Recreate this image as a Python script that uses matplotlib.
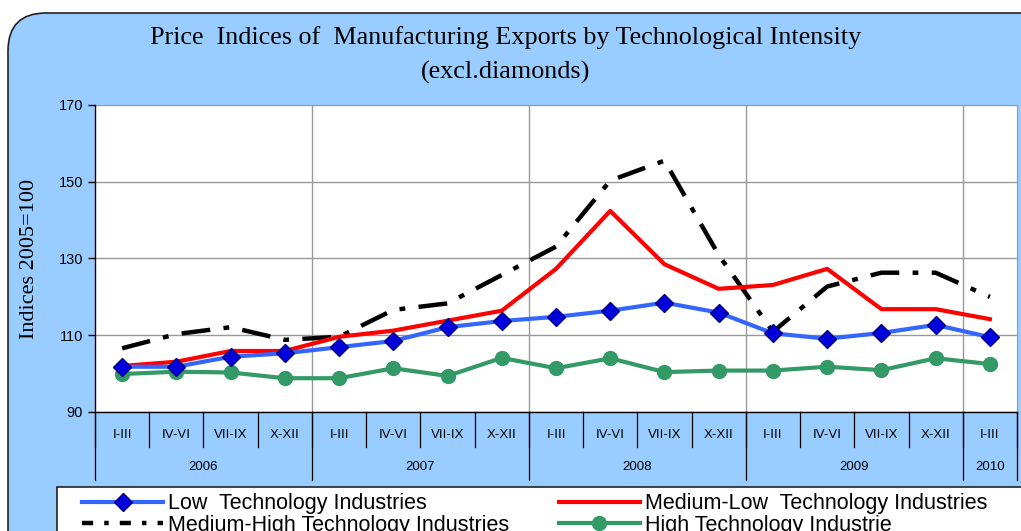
import matplotlib
matplotlib.use("Agg")
import matplotlib.pyplot as plt
from matplotlib.patches import FancyBboxPatch, Rectangle
from matplotlib.lines import Line2D
import numpy as np

# ── data ─────────────────────────────────────────────
quarters = ["I-III", "IV-VI", "VII-IX", "X-XII"] * 4 + ["I-III"]
years = ["2006", "2007", "2008", "2009", "2010"]
year_len = [4, 4, 4, 4, 1]

low_tech = [101.8, 101.8, 104.4, 105.3, 106.9, 108.5, 112.1, 113.7, 114.8,
            116.4, 118.5, 115.9, 110.5, 109.1, 110.6, 112.7, 109.5]
med_low = [102.0, 103.1, 105.9, 105.9, 109.6, 111.2, 113.8, 116.4, 127.3,
           142.4, 128.5, 122.1, 123.1, 127.3, 116.8, 116.8, 114.2]
med_high = [106.6, 110.3, 112.1, 108.8, 109.6, 116.6, 118.3, 125.7, 133.1,
            150.3, 155.5, 130.9, 110.9, 122.7, 126.3, 126.3, 120.0]
high_tech = [99.9, 100.5, 100.3, 98.8, 98.8, 101.4, 99.4, 104.1, 101.4,
             104.0, 100.4, 100.8, 100.8, 101.8, 100.9, 104.0, 102.5]

W, H = 1021, 531
fig = plt.figure(figsize=(W / 100, H / 100), dpi=100)
fig.patch.set_facecolor("white")

# background rounded panel (pixel coordinates)
bg = fig.add_axes([0, 0, 1, 1])
bg.set_xlim(0, W)
bg.set_ylim(H, 0)
bg.axis("off")
bg.add_patch(FancyBboxPatch((8, 13), 1060, 560,
                            boxstyle="round,pad=0,rounding_size=38",
                            facecolor="#99ccff", edgecolor="#222222", lw=1.2))
# legend frame
bg.add_patch(Rectangle((57, 487), 1000, 80, facecolor="white",
                       edgecolor="#222222", lw=1.2, zorder=2))

fig.text(506, 38, "Price  Indices of  Manufacturing Exports by Technological Intensity",
         transform=bg.transData, ha="center", va="center",
         family="Liberation Serif", fontsize=18.8)
fig.text(506, 72, "(excl.diamonds)", transform=bg.transData, ha="center",
         va="center", family="Liberation Serif", fontsize=18.8)

# main plot
x0, x1, y0, y1 = 95, 1017, 105, 412
ax = fig.add_axes([x0 / W, 1 - y1 / H, (x1 - x0) / W, (y1 - y0) / H])
ax.set_facecolor("white")
x = np.arange(len(quarters))
ax.set_xlim(-0.5, len(quarters) - 0.5)
ax.set_ylim(90, 170)
ax.set_yticks([90, 110, 130, 150, 170])
ax.set_xticks([])
ax.tick_params(axis="y", direction="out", length=5, width=1, labelsize=10.5)
for lab in ax.get_yticklabels():
    lab.set_family("Liberation Sans")
ax.yaxis.grid(True, color="#999999", lw=1)
for b in np.cumsum(year_len)[:-1] - 0.5:
    ax.axvline(b, color="#999999", lw=1)
ax.spines["top"].set_visible(False)
ax.spines["right"].set_color("#999999")
ax.spines["left"].set_linewidth(1)
ax.spines["bottom"].set_linewidth(1)
ax.set_ylabel("Indices 2005=100", family="Liberation Serif", fontsize=16, labelpad=14)

ax.plot(x, med_high, color="black", lw=3.2, ls=(0, (6.5, 3, 1.3, 3)), zorder=3)
ax.plot(x, high_tech, color="#339966", lw=3, marker="o", ms=10,
        markerfacecolor="#339966", markeredgecolor="#339966", zorder=4)
ax.plot(x, med_low, color="#ff0000", lw=3, zorder=4)
ax.plot(x, low_tech, color="#3366ff", lw=3, marker="D", ms=9,
        markerfacecolor="#0000dd", markeredgecolor="#000080", zorder=5)

# category axis below
trans = ax.get_xaxis_transform()
for i, q in enumerate(quarters):
    ax.text(i, -0.075, q, transform=trans, ha="center", va="center",
            family="Liberation Sans", fontsize=9.5, clip_on=False)
for k in range(len(quarters) + 1):
    ax.plot([k - 0.5, k - 0.5], [0, -0.114], transform=trans, color="black",
            lw=0.9, clip_on=False)
edges = np.concatenate([[0], np.cumsum(year_len)]) - 0.5
for e in edges:
    ax.plot([e, e], [0, -0.221], transform=trans, color="black", lw=0.9,
            clip_on=False)
for yname, a, b in zip(years, edges[:-1], edges[1:]):
    ax.text((a + b) / 2, -0.179, yname, transform=trans, ha="center",
            va="center", family="Liberation Sans", fontsize=9.5, clip_on=False)

# legend
handles = [
    Line2D([], [], color="#3366ff", lw=3, marker="D", ms=9,
           markerfacecolor="#0000dd", markeredgecolor="#000080"),
    Line2D([], [], color="black", lw=3.2, ls=(0, (2.5, 2.5, 1, 2.5))),
    Line2D([], [], color="#ff0000", lw=3),
    Line2D([], [], color="#339966", lw=3, marker="o", ms=10),
]
labels = ["Low  Technology Industries", "Medium-High Technology Industries",
          "Medium-Low  Technology Industries", "High Technology Industrie"]
leg = fig.legend(handles, labels, ncol=2, loc="upper left",
                 bbox_to_anchor=(78 / W, 1 - 489 / H),
                 prop={"family": "Liberation Sans", "size": 15.5},
                 frameon=False, handlelength=3.75,
                 handletextpad=0.25, columnspacing=2.3, labelspacing=0.02,
                 borderpad=0.2, borderaxespad=0)

fig.savefig("out.png", dpi=100)
